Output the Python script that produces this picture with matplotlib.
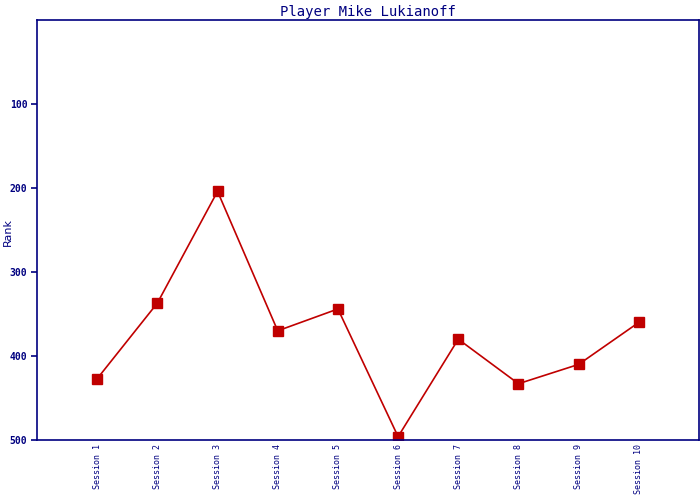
import matplotlib
matplotlib.use("Agg")
import matplotlib.pyplot as plt

sessions = ["Session %d" % i for i in range(1, 11)]
ranks = [427, 337, 204, 370, 344, 496, 380, 433, 410, 360]
yticks = [100, 200, 300, 400, 500]

navy = "#000080"
red = "#C00000"

fig = plt.figure(figsize=(7, 5), dpi=100)
ax = fig.add_axes([37 / 700, 60 / 500, 662 / 700, 420 / 500])

x = list(range(1, len(ranks) + 1))
ax.plot(x, ranks, color=red, lw=1.2, marker="s", markersize=7.5,
        markerfacecolor=red, markeredgecolor=red)

ax.set_xlim(0, 11)
ax.set_ylim(500, 0)
ax.set_yticks(yticks)
ax.set_yticklabels([str(v) for v in yticks], family="DejaVu Sans Mono",
                   fontsize=7, fontweight="bold", color=navy)
ax.set_xticks(x)
ax.set_xticklabels(sessions, rotation=90, family="DejaVu Sans Mono",
                   fontsize=6, color=navy)
ax.tick_params(axis="x", length=0, pad=3)
ax.tick_params(axis="y", length=4, width=1.2, color=navy, pad=3)

for s in ax.spines.values():
    s.set_color(navy)
    s.set_linewidth(1.2)

fig.text(8 / 700, 1 - 232 / 500, "Rank", rotation=90, color=navy,
         fontsize=8, ha="center", va="center")
ax.set_title("Player Mike Lukianoff", family="DejaVu Sans Mono",
             fontsize=10, color=navy, pad=3)

fig.savefig("out.png", dpi=100)
